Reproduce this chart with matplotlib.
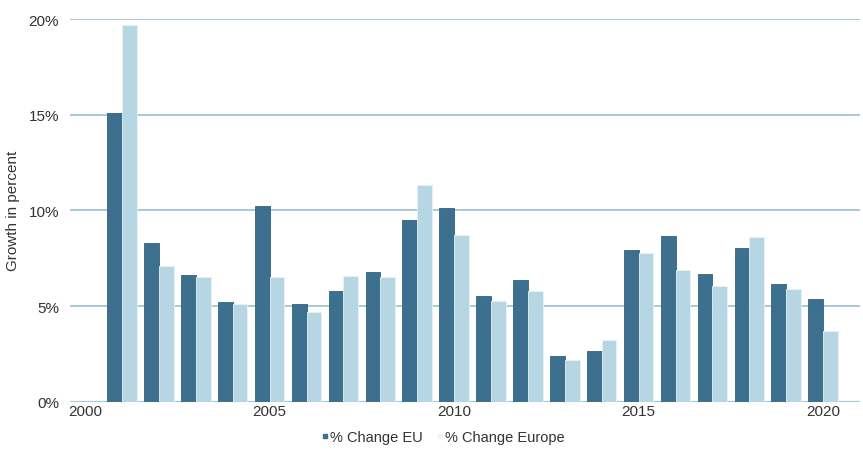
import numpy as np
import matplotlib.pyplot as plt
from matplotlib.ticker import PercentFormatter
from matplotlib.lines import Line2D

plt.rcParams['font.family'] = ['Liberation Sans', 'DejaVu Sans']

years = np.arange(2001, 2021)
change_eu = [15.1, 8.3, 6.6, 5.2, 10.25, 5.1, 5.8, 6.8, 9.5, 10.1,
             5.5, 6.35, 2.4, 2.65, 7.95, 8.65, 6.65, 8.05, 6.15, 5.35]
change_europe = [19.7, 7.1, 6.5, 5.1, 6.5, 4.7, 6.55, 6.5, 11.3, 8.7,
                 5.25, 5.8, 2.2, 3.2, 7.75, 6.9, 6.05, 8.6, 5.9, 3.7]

dark = '#3d6f8f'
light = '#b6d6e3'
grid_col = '#a6cad7'

fig = plt.figure(figsize=(8.63, 4.52), dpi=100)
ax = fig.add_axes([70/863, (452-402.7)/452, 790/863, (402.7-20)/452])

w = 0.4
ax.bar(years - w/2, change_eu, width=w, color=dark, edgecolor='#33637f', linewidth=0.6, zorder=3)
ax.bar(years + w/2, change_europe, width=w, color=light, edgecolor='#e8f2f6', linewidth=0.6, zorder=3)

ax.set_xlim(1999.59, 2021.0)
ax.set_ylim(0, 20)
ax.set_yticks([0, 5, 10, 15, 20])
ax.yaxis.set_major_formatter(PercentFormatter(decimals=0))
ax.set_xticks([2000, 2005, 2010, 2015, 2020])
ax.grid(axis='y', color=grid_col, linewidth=1.4, zorder=0)
ax.set_axisbelow(True)
for s in ax.spines.values():
    s.set_visible(False)
ax.axhline(0, color=grid_col, linewidth=1.6, zorder=1)

ax.tick_params(length=0, labelsize=11, colors='#333333')
ax.tick_params(axis='y', pad=8)
ax.tick_params(axis='x', pad=2)
ax.set_ylabel('Growth in percent', fontsize=11, color='#333333', labelpad=6)

handles = [Line2D([], [], marker='s', linestyle='', color=dark, markersize=3.5),
           Line2D([], [], marker='s', linestyle='', color='#eef5f8', markersize=3.5)]
fig.legend(handles, ['% Change EU', '% Change Europe'], loc='center',
           bbox_to_anchor=(443/863, (452-438)/452), ncol=2, frameon=False,
           fontsize=10.5, handlelength=0.5, handletextpad=0.1, columnspacing=0.9,
           labelcolor='#333333')

fig.savefig('out.png', dpi=100)
